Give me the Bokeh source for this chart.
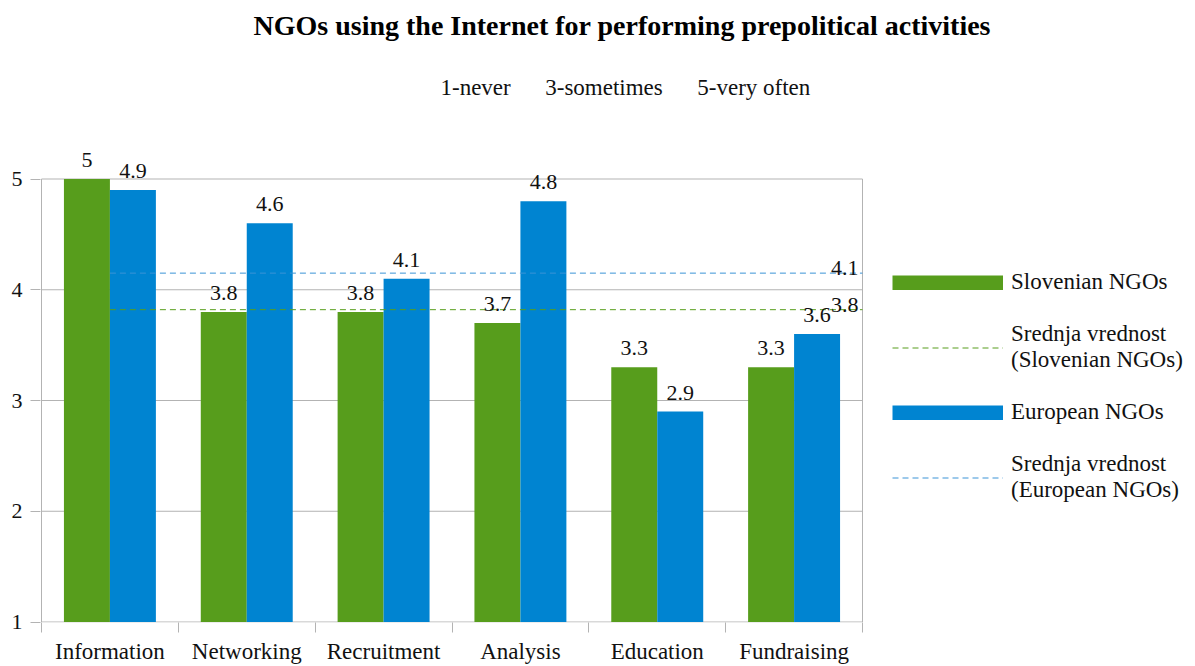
import numpy as np
from bokeh.plotting import figure
from bokeh.models import (ColumnDataSource, Range1d, FixedTicker, LabelSet, Legend,
                          LegendItem, Title)
from bokeh.core.properties import value
from bokeh.embed import file_html
from bokeh.resources import INLINE

# ---- data ----
categories = ["Information", "Networking", "Recruitment", "Analysis", "Education", "Fundraising"]
slovenian = [5.0, 3.8, 3.8, 3.7, 3.3, 3.3]
european = [4.9, 4.6, 4.1, 4.8, 2.9, 3.6]
slovenian_mean = 3.82
european_mean = 4.15
mean_labels = ["3.8", "4.1"]
y_ticks = [1, 2, 3, 4, 5]

GREEN = "#579d1c"
BLUE = "#0084d1"
BLUE_MEAN = "#3a93d6"
GRID = "#b3b3b3"
FONT = "Liberation Serif"
TXT = "#111111"

n = len(categories)
centers = np.arange(n) + 0.5
bw = 0.336

# ---- geometry (pixels) ----
W, H = 1195, 666
left_b, top_b, bottom_b = 40, 130, 44
frame_w = W - left_b
frame_h = H - top_b - bottom_b
px_x = 821 / n          # pixels per category
px_y = 443 / 4          # pixels per y unit
x0 = -1 / px_x
x1 = x0 + frame_w / px_x
y0 = 1 - 0.5 / px_y
y1 = y0 + frame_h / px_y

p = figure(width=W, height=H, output_backend="svg", toolbar_location=None,
           x_range=Range1d(x0, x1), y_range=Range1d(y0, y1), title=None,
           min_border_left=left_b, min_border_right=0, min_border_top=top_b,
           min_border_bottom=bottom_b)

sp = "\u00a0" * 6
p.add_layout(Title(text=f"1-never{sp}3-sometimes{sp}5-very often",
                   text_font=FONT, text_font_size="23px", text_font_style="normal",
                   text_color=TXT, align="left", offset=400, standoff=61), "above")
p.add_layout(Title(text="NGOs using the Internet for performing prepolitical activities",
                   text_font=FONT, text_font_size="28px", text_font_style="bold",
                   text_color="#000000", align="left", offset=213, standoff=4), "above")

# grid lines, plot box
p.segment(x0=0, x1=n, y0=y_ticks, y1=y_ticks, line_color=GRID, line_width=1)
p.segment(x0=[0, n], x1=[0, n], y0=[1, 1], y1=[5, 5], line_color=GRID, line_width=1)

src = ColumnDataSource(dict(
    xg=centers - bw / 2, xb=centers + bw / 2,
    slo=slovenian, eur=european,
    slo_t=[f"{v:g}" for v in slovenian], eur_t=[f"{v:g}" for v in european],
))

p.vbar(x="xg", top="slo", bottom=1, width=bw, source=src, fill_color=GREEN, line_color=None)
p.vbar(x="xb", top="eur", bottom=1, width=bw, source=src, fill_color=BLUE, line_color=None)

# legend swatches (thick lines, nothing drawn in the plot)
sw_slo = p.line(x=[np.nan], y=[np.nan], line_color=GREEN, line_width=15, line_cap="butt")
sw_eur = p.line(x=[np.nan], y=[np.nan], line_color=BLUE, line_width=15, line_cap="butt")

r_slo_mean = p.line([0.5, n], [slovenian_mean, slovenian_mean], line_color=GREEN,
                    line_dash="6 4", line_width=1)
r_eur_mean = p.line([0.5, n], [european_mean, european_mean], line_color=BLUE_MEAN,
                    line_dash="6 4", line_width=1)

p.text(x=[n, n], y=[slovenian_mean, european_mean], text=mean_labels,
       text_align="right", text_baseline="alphabetic", x_offset=-4, y_offset=-5,
       text_font=value(FONT), text_font_size="22px", text_color=TXT)

for xcol, ycol, tcol in [("xg", "slo", "slo_t"), ("xb", "eur", "eur_t")]:
    p.add_layout(LabelSet(x=xcol, y=ycol, text=tcol, source=src, text_align="center",
                          text_baseline="alphabetic", y_offset=12, text_font=value(FONT),
                          text_font_size=value("22px"), text_color=value(TXT)))

# axes
p.xaxis.ticker = FixedTicker(ticks=list(centers), minor_ticks=list(range(n + 1)))
p.xaxis.major_label_overrides = {float(c): lab for c, lab in zip(centers, categories)}
p.xaxis.major_tick_out = 0
p.xaxis.major_tick_in = 0
p.xaxis.minor_tick_out = 10
p.xaxis.minor_tick_in = 0
p.xaxis.minor_tick_line_color = GRID
p.xaxis.major_label_text_font = FONT
p.xaxis.major_label_text_font_size = "23px"
p.xaxis.major_label_text_color = TXT
p.xaxis.major_label_standoff = 6

p.yaxis.ticker = FixedTicker(ticks=y_ticks, minor_ticks=[])
p.yaxis.major_tick_out = 10
p.yaxis.major_tick_in = 0
p.yaxis.major_tick_line_color = GRID
p.yaxis.major_label_text_font = FONT
p.yaxis.major_label_text_font_size = "22px"
p.yaxis.major_label_text_color = TXT
p.yaxis.major_label_standoff = 8

for ax in (p.xaxis, p.yaxis):
    ax.axis_line_color = None

p.xgrid.grid_line_color = None
p.ygrid.grid_line_color = None
p.outline_line_color = None

legend = Legend(items=[
    LegendItem(label="Slovenian NGOs", renderers=[sw_slo]),
    LegendItem(label="Srednja vrednost\n(Slovenian NGOs)", renderers=[r_slo_mean]),
    LegendItem(label="European NGOs", renderers=[sw_eur]),
    LegendItem(label="Srednja vrednost\n(European NGOs)", renderers=[r_eur_mean]),
], location=(852, 119), glyph_width=111, glyph_height=15, label_standoff=8,
   spacing=26, padding=0, margin=0, border_line_color=None, background_fill_alpha=0,
   label_text_font=FONT, label_text_font_size="23px", label_text_color=TXT)
p.add_layout(legend, "center")

open("out.html", "w").write(file_html(p, INLINE))
